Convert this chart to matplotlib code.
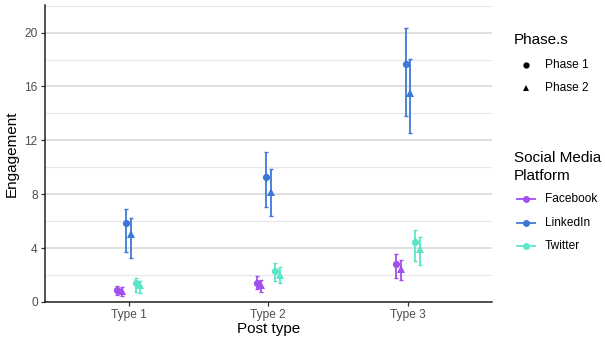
import matplotlib
matplotlib.use("Agg")
import matplotlib.pyplot as plt
from matplotlib.lines import Line2D
import numpy as np

plt.rcParams['font.family'] = ['Liberation Sans', 'DejaVu Sans']

categories = ["Type 1", "Type 2", "Type 3"]
platforms = ["Facebook", "LinkedIn", "Twitter"]
phases = ["Phase 1", "Phase 2"]

# mean, lower, upper per platform/phase across categories
facebook_p1 = [0.90, 1.44, 2.80]
facebook_p1_lo = [0.55, 0.94, 1.81]
facebook_p1_hi = [1.20, 1.91, 3.55]
facebook_p2 = [0.80, 1.24, 2.48]
facebook_p2_lo = [0.45, 0.74, 1.61]
facebook_p2_hi = [1.10, 1.61, 3.15]

linkedin_p1 = [5.83, 9.25, 17.67]
linkedin_p1_lo = [3.72, 7.02, 13.83]
linkedin_p1_hi = [6.87, 11.15, 20.35]
linkedin_p2 = [5.08, 8.13, 15.54]
linkedin_p2_lo = [3.27, 6.40, 12.57]
linkedin_p2_hi = [6.20, 9.84, 18.07]

twitter_p1 = [1.44, 2.30, 4.42]
twitter_p1_lo = [0.74, 1.54, 3.05]
twitter_p1_hi = [1.78, 2.90, 5.38]
twitter_p2 = [1.29, 1.98, 3.94]
twitter_p2_lo = [0.67, 1.41, 2.78]
twitter_p2_hi = [1.56, 2.60, 4.79]

y_ticks = [0, 4, 8, 12, 16, 20]

series = [
    ("Facebook", "Phase 1", facebook_p1, facebook_p1_lo, facebook_p1_hi),
    ("Facebook", "Phase 2", facebook_p2, facebook_p2_lo, facebook_p2_hi),
    ("LinkedIn", "Phase 1", linkedin_p1, linkedin_p1_lo, linkedin_p1_hi),
    ("LinkedIn", "Phase 2", linkedin_p2, linkedin_p2_lo, linkedin_p2_hi),
    ("Twitter", "Phase 1", twitter_p1, twitter_p1_lo, twitter_p1_hi),
    ("Twitter", "Phase 2", twitter_p2, twitter_p2_lo, twitter_p2_hi),
]

colors = {"Facebook": "#A24FF2", "LinkedIn": "#3D78D8", "Twitter": "#5CE6C8"}
markers = {"Phase 1": "o", "Phase 2": "^"}

W, H = 605, 344
fig = plt.figure(figsize=(W / 100, H / 100), dpi=100)
ax = fig.add_axes([44.7 / W, (H - 302) / H, (492 - 44.7) / W, (302 - 5) / H])

x = np.arange(len(categories))
dodge = 0.2
n = len(series)
step = dodge / n
for i, (plat, ph, m, lo, hi) in enumerate(series):
    off = (i - (n - 1) / 2) * step
    xs = x + off
    m = np.array(m); lo = np.array(lo); hi = np.array(hi)
    ax.errorbar(xs, m, yerr=[m - lo, hi - m], fmt='none', ecolor=colors[plat],
                elinewidth=1.3, capsize=1.2, capthick=1.0, zorder=3)
    ax.plot(xs, m, linestyle='none', marker=markers[ph], color=colors[plat],
            markersize=5.2 if ph == "Phase 1" else 5.6, markeredgewidth=0, zorder=4)

ax.set_xlim(-0.6, 2.6)
ax.set_ylim(0, 22.05)
ax.set_yticks(y_ticks)
ax.set_yticks([2, 6, 10, 14, 18, 22], minor=True)
ax.set_xticks(x)
ax.set_xticklabels(categories)
ax.yaxis.grid(True, which='major', color='#d6d6d6', linewidth=1.1)
ax.yaxis.grid(True, which='minor', color='#e8e8e8', linewidth=0.9)
ax.set_axisbelow(True)
for s in ['top', 'right']:
    ax.spines[s].set_visible(False)
for s in ['left', 'bottom']:
    ax.spines[s].set_color('#222222')
    ax.spines[s].set_linewidth(1.1)
ax.tick_params(axis='both', which='major', colors='#333333', labelcolor='#4d4d4d',
               labelsize=8.6, length=3, width=0.9, pad=2)
ax.tick_params(axis='y', which='minor', length=0)
ax.set_xlabel("Post type", fontsize=11, color='black', labelpad=1)
ax.set_ylabel("Engagement", fontsize=11, color='black', labelpad=4)

# legends
def fx(px):
    return px / W

def fy(py):
    return (H - py) / H

fig.text(fx(514), fy(40), "Phase.s", fontsize=11, va='center', ha='left')
for j, (ph, yy) in enumerate([("Phase 1", 65), ("Phase 2", 88)]):
    fig.add_artist(Line2D([fx(526)], [fy(yy)], marker=markers[ph], color='black',
                          markersize=4.5, markeredgewidth=0, linestyle='none',
                          transform=fig.transFigure))
    fig.text(fx(545), fy(yy), ph, fontsize=8.6, va='center', ha='left')

fig.text(fx(514), fy(158), "Social Media", fontsize=11, va='center', ha='left')
fig.text(fx(514), fy(176), "Platform", fontsize=11, va='center', ha='left')
for plat, yy in [("Facebook", 199), ("LinkedIn", 223), ("Twitter", 246)]:
    fig.add_artist(Line2D([fx(517), fx(535)], [fy(yy), fy(yy)], color=colors[plat],
                          linewidth=1.3, transform=fig.transFigure))
    fig.add_artist(Line2D([fx(526)], [fy(yy)], marker='o', color=colors[plat],
                          markersize=5, markeredgewidth=0, linestyle='none',
                          transform=fig.transFigure))
    fig.text(fx(545), fy(yy), plat, fontsize=8.6, va='center', ha='left')

fig.savefig("out.png", dpi=100)
